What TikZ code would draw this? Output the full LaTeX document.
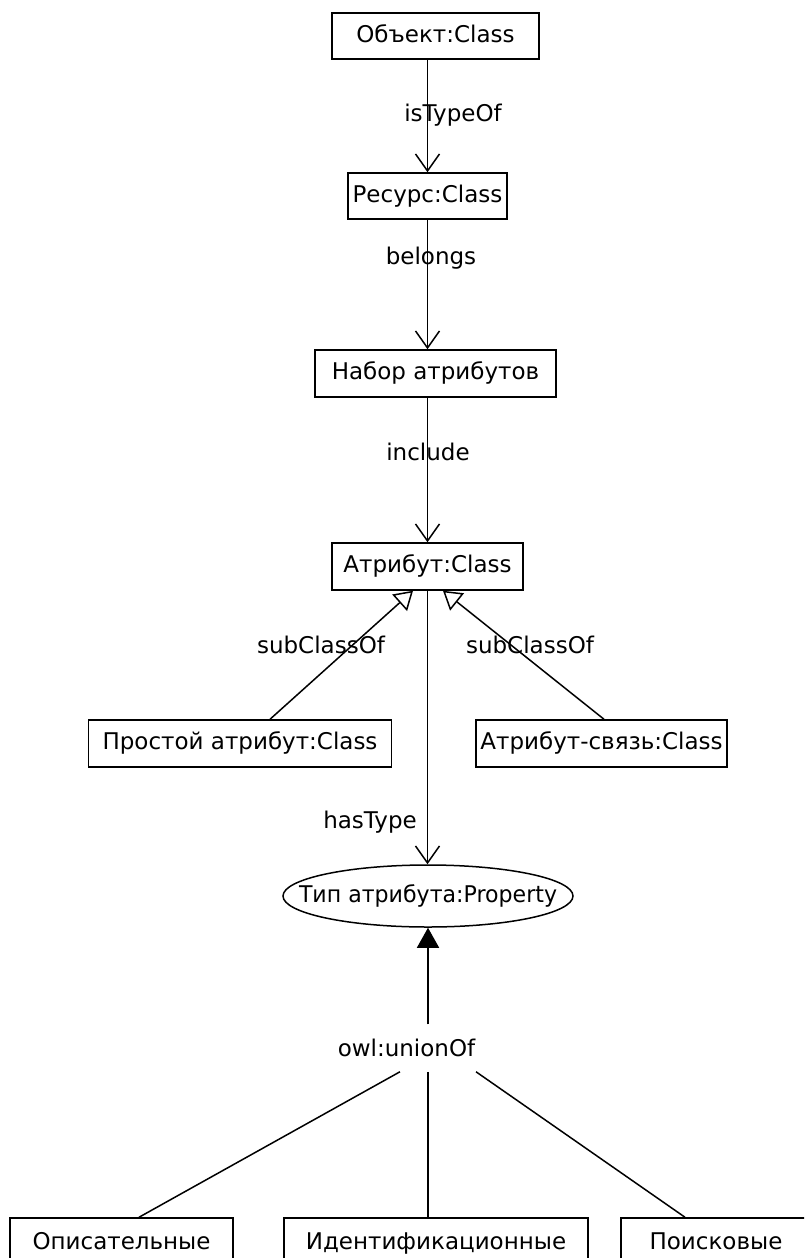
\documentclass[tikz,border=0pt]{standalone}
\usepackage{fontspec}
\setmainfont{DejaVu Sans}
\usetikzlibrary{arrows.meta,shapes.geometric,calc}

\begin{document}
\begin{tikzpicture}[
  x=1pt,
  y=-1pt,
  font=\fontsize{23}{27}\selectfont,
  line width=1.5pt,
  class box/.style={
    draw,
    rectangle,
    minimum height=46pt,
    text height=17pt,
    text depth=5pt,
    inner sep=0pt
  },
  prop oval/.style={
    draw,
    ellipse,
    minimum width=290pt,
    minimum height=62pt,
    inner sep=0pt
  },
  rel label/.style={
    inner sep=0pt
  },
  rel/.style={
    -{Straight Barb[length=17pt,width=24pt]}
  },
  sub/.style={
    -{Triangle[open,length=18pt,width=22pt,fill=white]}
  },
  union/.style={
    -{Triangle[length=20pt,width=22pt]}
  },
]
\useasboundingbox (0,0) rectangle (804,1258);
\clip (0,0) rectangle (804,1258);

% classes
\node[class box, minimum width=207pt] (obj) at (435.5,36) {Объект:Class};
\node[class box, minimum width=159pt] (res) at (427.5,196) {Ресурс:Class};
\node[class box, minimum width=241pt, minimum height=47pt] (set) at (435.5,373.5) {Набор атрибутов};
\node[class box, minimum width=191pt, minimum height=47pt] (attr) at (427.5,566.5) {Атрибут:Class};
\node[class box, minimum width=303pt, minimum height=47pt] (simple) at (240,743.5) {Простой атрибут:Class};
\node[class box, minimum width=251pt, minimum height=47pt] (link) at (601.5,743.5) {Атрибут-связь:Class};
\node[prop oval] (type) at (428,896) {\makebox[0pt]{\scalebox{0.96}[1]{Тип атрибута:Property}}};
\node[class box, minimum width=223pt, minimum height=50pt] (desc) at (121.5,1243) {Описательные};
\node[class box, minimum width=304pt, minimum height=50pt] (ident) at (436,1243) {Идентификационные};
\node[class box, minimum width=190pt, minimum height=50pt] (search) at (716,1243) {Поисковые};

% labels
\node[rel label] (lisType) at (453,115) {isTypeOf};
\node[rel label] (lbelongs) at (431,258) {belongs};
\node[rel label] (linclude) at (428,452) {include};
\node[rel label] (lsubL) at (321,645) {subClassOf};
\node[rel label] (lsubR) at (530,645) {subClassOf};
\node[rel label] (lhasType) at (370,822) {hasType};
\node[rel label, minimum height=46pt] (unionlbl) at (406.5,1048) {owl:unionOf};

% relations
\draw[rel] (res.north |- obj.south) -- (res.north);
\draw[rel] (res.south) -- (res.south |- set.north);
\draw[rel] (attr.north |- set.south) -- (attr.north);
\draw[sub] ($(simple.north)+(30,0)$) -- ($(attr.south)+(-14.5,0)$);
\draw[sub] ($(link.north)+(2.5,0)$) -- ($(attr.south)+(15.5,0)$);
\draw[rel] (attr.south) -- (attr.south |- type.north);
\draw[union] (type.south |- unionlbl.north) -- (type.south);
\draw ($(unionlbl.south)+(-6.5,0)$) -- ($(desc.north)+(17.5,0)$);
\draw (type.south |- unionlbl.south) -- (type.south |- ident.north);
\draw ($(unionlbl.south)+(69.5,0)$) -- ($(search.north)+(-31,0)$);
\end{tikzpicture}
\end{document}
